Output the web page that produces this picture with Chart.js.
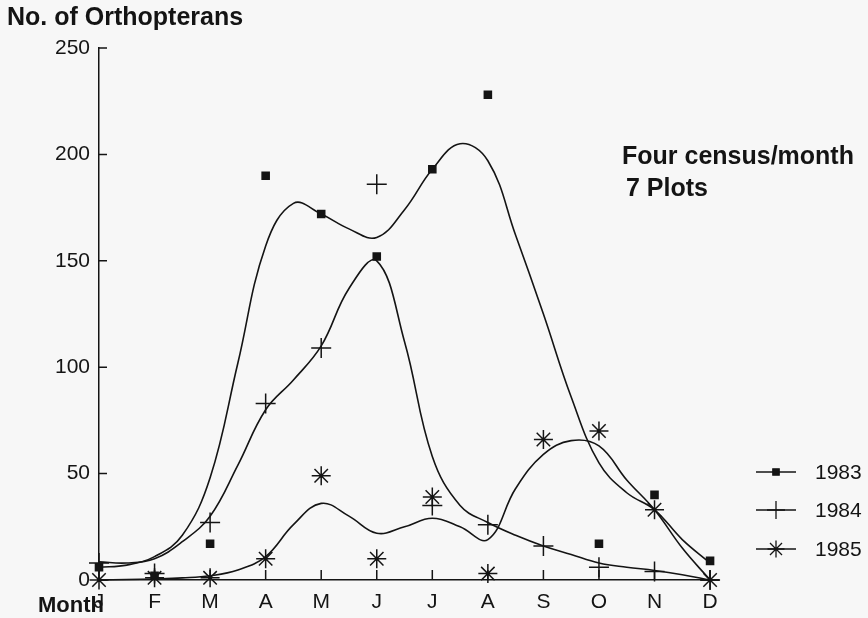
<!DOCTYPE html>
<html>
<head>
<meta charset="utf-8">
<title>No. of Orthopterans</title>
<script src="https://cdn.jsdelivr.net/npm/chart.js@4.4.1/dist/chart.umd.min.js"></script>
<style>
  html, body { margin: 0; padding: 0; background: #f7f7f7; }
  canvas { display: block; }
</style>
</head>
<body>
<canvas id="orthopteraChart" width="868" height="618"></canvas>
<script>
const months = ["J", "F", "M", "A", "M", "J", "J", "A", "S", "O", "N", "D"];
const yTicks = [0, 50, 100, 150, 200, 250];
const years = ["1983", "1984", "1985"];

// monthly counts (markers)
const counts1983 = [6, 2, 17, 190, 172, 152, 193, 228, null, 17, 40, 9];
const counts1984 = [8, 3, 27, 83, 109, 186, 35, 26, 16, 6, 4, 0];
const counts1985 = [0, 1, 1, 10, 49, 10, 39, 3, 66, 70, 33, 0];

const curveX = [0, 0.5, 1, 1.5, 2, 2.5, 3, 3.5, 4, 4.5, 5, 5.5, 6, 6.5, 7, 7.5, 8, 8.5, 9, 9.5, 10, 10.5, 11];
const curve1983 = [6, 7, 11, 21, 48, 102, 157, 177, 172, 165, 161, 174, 193, 205, 197, 162, 125, 86, 55, 41, 33, 19, 8];
const curve1984 = [8.5, 8, 10, 18, 30, 54, 80, 94, 110, 137, 150, 112, 58, 35, 27, 21, 16, 12, 8, 6, 4.5, 2.5, 0];
const curve1985 = [0, 0.2, 0.5, 1, 2, 4.7, 11, 26, 36, 30, 22, 25, 29, 25, 19, 43, 59, 65.5, 63, 47, 33, 15, 0];

const ink = "#141414";
const font = "'Liberation Sans', Arial, Helvetica, sans-serif";

const toPoints = (xs, ys) => ys.map((v, i) => ({ x: xs[i], y: v }));
const monthIdx = months.map((m, i) => i);

const markerStyles = [
  { pointStyle: "rect", radius: 5, legendRadius: 4.5 },
  { pointStyle: "cross", radius: 10, legendRadius: 9 },
  { pointStyle: "star", radius: 9.5, legendRadius: 8.5 },
];

const curveDataset = (values) => ({
  type: "line",
  data: toPoints(curveX, values),
  borderColor: ink,
  borderWidth: 1.6,
  pointRadius: 0,
  tension: 0.4,
  fill: false,
  clip: false,
});

const markerDataset = (values, k) => ({
  type: "scatter",
  label: years[k],
  data: toPoints(monthIdx, values),
  pointStyle: markerStyles[k].pointStyle,
  pointRadius: markerStyles[k].radius,
  backgroundColor: ink,
  borderColor: ink,
  borderWidth: 1.5,
  clip: false,
});

const decorations = {
  id: "decorations",
  afterDraw(chart) {
    const { ctx, scales: { x, y } } = chart;
    ctx.save();
    ctx.strokeStyle = ink;
    ctx.fillStyle = ink;
    ctx.lineWidth = 1.5;

    // inward tick marks
    ctx.beginPath();
    yTicks.forEach((v) => {
      const py = y.getPixelForValue(v);
      ctx.moveTo(x.left, py);
      ctx.lineTo(x.left + 8, py);
    });
    monthIdx.forEach((i) => {
      const px = x.getPixelForValue(i);
      ctx.moveTo(px, y.bottom);
      ctx.lineTo(px, y.bottom - 10);
    });
    ctx.stroke();

    // titles
    ctx.textBaseline = "middle";
    ctx.textAlign = "left";
    ctx.font = "bold 25px " + font;
    ctx.fillText("No. of Orthopterans", 7, 18);
    ctx.fillText("Four census/month", 622, 157);
    ctx.fillText("7 Plots", 626, 189);
    ctx.font = "bold 22px " + font;
    ctx.fillText("Month", 38, 606);

    // legend
    const legendY = [472, 510, 549];
    ctx.font = "21px " + font;
    years.forEach((yr, k) => {
      const ly = legendY[k];
      ctx.lineWidth = 1.3;
      ctx.beginPath();
      ctx.moveTo(756, ly);
      ctx.lineTo(796, ly);
      ctx.stroke();
      Chart.helpers.drawPoint(ctx, {
        pointStyle: markerStyles[k].pointStyle,
        radius: markerStyles[k].legendRadius,
        borderWidth: 1.5,
        rotation: 0,
      }, 776, ly);
      ctx.fillText(yr, 815, ly + 1);
    });
    ctx.restore();
  },
};

new Chart(document.getElementById("orthopteraChart"), {
  data: {
    datasets: [
      curveDataset(curve1983),
      curveDataset(curve1984),
      curveDataset(curve1985),
      markerDataset(counts1983, 0),
      markerDataset(counts1984, 1),
      markerDataset(counts1985, 2),
    ],
  },
  options: {
    responsive: false,
    animation: false,
    events: [],
    layout: { padding: { top: 48, right: 149.6, left: 0, bottom: 0 } },
    plugins: { legend: { display: false }, tooltip: { enabled: false } },
    scales: {
      x: {
        type: "linear",
        min: 0,
        max: 11.15,
        grid: { display: false, drawTicks: false },
        border: { display: true, color: ink, width: 1.5 },
        afterBuildTicks: (scale) => { scale.ticks = monthIdx.map((i) => ({ value: i })); },
        afterFit: (scale) => { scale.height = 38; },
        ticks: {
          autoSkip: false,
          maxRotation: 0,
          padding: 10,
          color: ink,
          font: { family: font, size: 21 },
          callback: (v) => months[v],
        },
      },
      y: {
        min: 0,
        max: 250,
        grid: { display: false, drawTicks: false },
        border: { display: true, color: ink, width: 1.5 },
        afterBuildTicks: (scale) => { scale.ticks = yTicks.map((v) => ({ value: v })); },
        afterFit: (scale) => { scale.width = 99; },
        ticks: {
          padding: 9,
          color: ink,
          font: { family: font, size: 21 },
        },
      },
    },
  },
  plugins: [decorations],
});
</script>
</body>
</html>
